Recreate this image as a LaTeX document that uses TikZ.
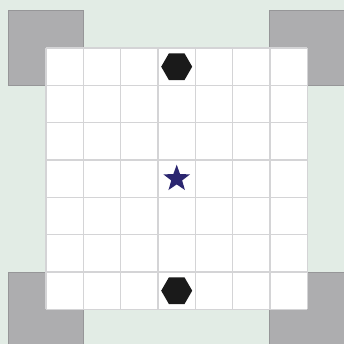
\documentclass[tikz,border=0pt]{standalone}
\usetikzlibrary{shapes.geometric}
\definecolor{bgc}{HTML}{E2ECE5}
\definecolor{padfill}{HTML}{ADADAF}
\definecolor{paddraw}{HTML}{969698}
\definecolor{gridc}{HTML}{D4D4D6}
\definecolor{hexc}{HTML}{1A1A1A}
\definecolor{starc}{HTML}{2B2670}
\tikzset{
  pad/.style={fill=padfill,draw=paddraw,line width=0.8pt},
  gridline/.style={draw=gridc,line width=1.2pt},
  hexpiece/.style={regular polygon,regular polygon sides=6,fill=hexc,inner sep=0pt,minimum size=31pt},
  starpiece/.style={star,star points=5,star point ratio=2.45,fill=starc,inner sep=0pt,minimum size=28pt}
}
\begin{document}
\begin{tikzpicture}[x=1pt,y=-1pt]
\def\cs{37.33}
\useasboundingbox (0,0) rectangle (344,344);
\fill[bgc] (0,0) rectangle (344,344);
% corner pads
\path[pad] (8.7,10.7) rectangle (83.3,85.3);
\path[pad] (269.7,10.7) rectangle (344.3,85.3);
\path[pad] (8.7,272) rectangle (83.3,346.7);
\path[pad] (269.7,272) rectangle (344.3,346.7);
% board
\fill[white] (46,48) rectangle (307.3,309.3);
\foreach \i in {0,...,7}{
  \path[gridline] (46+\i*\cs,48) -- (46+\i*\cs,309.3);
  \path[gridline] (46,48+\i*\cs) -- (307.3,48+\i*\cs);
}
\node[hexpiece] (top) at (176.7,66.7) {};
\node[hexpiece] (bottom) at (176.7,290.7) {};
\node[starpiece] (center) at (176.7,178.7) {};
\end{tikzpicture}
\end{document}
